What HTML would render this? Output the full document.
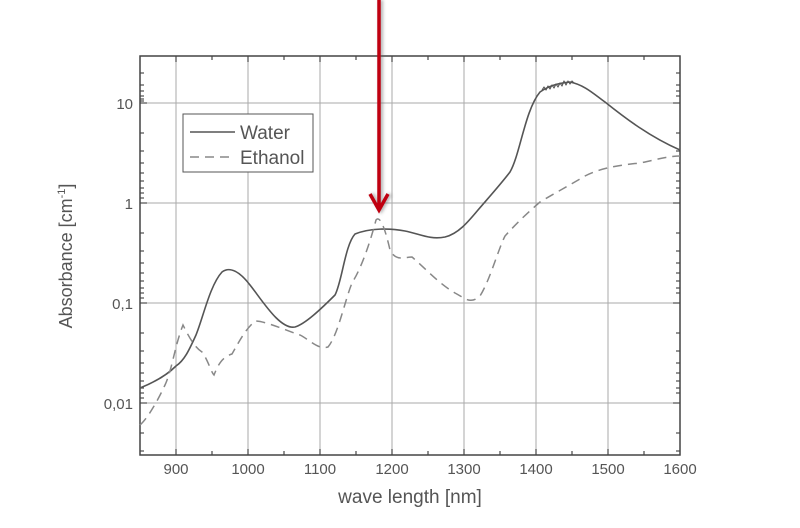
<!DOCTYPE html>
<html><head><meta charset="utf-8"><style>
body{margin:0;background:#fff;width:800px;height:523px;overflow:hidden}
text{font-family:"Liberation Sans",sans-serif;fill:#555}
</style></head><body>
<svg width="800" height="523" viewBox="0 0 800 523">
<defs><filter id="sh" x="-2" y="-0.1" width="5" height="1.3"><feGaussianBlur stdDeviation="1.5"/></filter></defs>
<g stroke="#aaa" stroke-width="1">
<line x1="176" y1="56" x2="176" y2="455"/><line x1="248" y1="56" x2="248" y2="455"/><line x1="320" y1="56" x2="320" y2="455"/><line x1="392" y1="56" x2="392" y2="455"/><line x1="464" y1="56" x2="464" y2="455"/><line x1="536" y1="56" x2="536" y2="455"/><line x1="608" y1="56" x2="608" y2="455"/>
<line x1="140" y1="103" x2="680" y2="103"/><line x1="140" y1="203" x2="680" y2="203"/><line x1="140" y1="303" x2="680" y2="303"/><line x1="140" y1="403" x2="680" y2="403"/>
</g>
<g stroke="#555" stroke-width="1.3">
<path d="M176 455v-6M248 455v-6M320 455v-6M392 455v-6M464 455v-6M536 455v-6M608 455v-6M212 455v-4M284 455v-4M356 455v-4M428 455v-4M500 455v-4M572 455v-4M644 455v-4
M176 56v6M248 56v6M320 56v6M392 56v6M464 56v6M536 56v6M608 56v6M212 56v4M284 56v4M356 56v4M428 56v4M500 56v4M572 56v4M644 56v4"/>
<path d="M140 103h7M140 203h7M140 303h7M140 403h7M673 103h7M673 203h7M673 303h7M673 403h7
M140 73h4M140 85h4M140 91h4M140 96h4M140 99h4M140 101h4M140 133h4M140 151h4M140 163h4M140 173h4M140 181h4M140 188h4M140 193h4M140 198h4M140 233h4M140 251h4M140 263h4M140 273h4M140 281h4M140 288h4M140 293h4M140 298h4M140 333h4M140 351h4M140 363h4M140 373h4M140 381h4M140 388h4M140 393h4M140 398h4M140 433h4M140 451h4
M676 73h4M676 85h4M676 91h4M676 96h4M676 133h4M676 151h4M676 163h4M676 173h4M676 181h4M676 188h4M676 193h4M676 233h4M676 251h4M676 263h4M676 273h4M676 281h4M676 288h4M676 293h4M676 333h4M676 351h4M676 363h4M676 373h4M676 381h4M676 388h4M676 393h4M676 433h4M676 451h4"/>
</g>
<rect x="140" y="56" width="540" height="399" fill="none" stroke="#444" stroke-width="1.5"/>
<g fill="none" stroke="#555" stroke-width="1.6" stroke-linejoin="round">
<path d="M140 388 C155 382,168 374,176 366 C185 360,190 348,196 335 C203 318,210 285,222 272 C230 266,240 272,250 285 C262 300,280 330,295 327 C305 324,320 310,335 295 C342 282,345 245,355 234 C370 228,390 228,405 231 C420 234,430 240,445 237 C458 234,468 222,478 210 C490 196,500 185,510 172 C520 155,525 110,540 92 C550 85,560 83,570 82 C585 85,595 95,605 102 C625 118,650 137,680 150"/>
<path d="M542 90 l2 -3 2 3 2 -4 2 3 2 -4 2 3 2 -4 2 3 2 -4 2 3 2 -5 2 4 2 -4 2 3 2 -3 2 2" stroke-width="1.1"/>
</g>
<g fill="none" stroke="#888" stroke-width="1.5" stroke-dasharray="9,6">
<path d="M140 425 C148 418,158 400,165 385 C172 370,175 345,183 325 C188 335,194 347,202 352 C208 360,211 372,214 375 C218 365,222 357,232 354 C240 340,245 330,255 321 C265 321,285 330,300 335 C310 340,318 350,328 347 C338 335,345 300,352 283 C360 270,368 250,376 220 C380 215,385 228,390 250 C396 262,405 257,412 257 C425 268,438 283,455 293 C465 298,470 305,480 296 C490 280,498 250,505 236 C515 225,525 215,540 202 C555 193,570 185,585 176 C600 168,620 165,640 163 C655 160,668 156,680 156"/>
</g>
<rect x="183" y="114" width="130" height="58" fill="#fff" stroke="#555" stroke-width="1"/>
<line x1="190" y1="132" x2="235" y2="132" stroke="#555" stroke-width="1.6"/>
<line x1="190" y1="157" x2="235" y2="157" stroke="#888" stroke-width="1.5" stroke-dasharray="9,6"/>
<text x="240" y="139" font-size="19">Water</text>
<text x="240" y="164" font-size="19">Ethanol</text>
<g font-size="15" text-anchor="end"><text x="133" y="109">10</text><text x="133" y="209">1</text><text x="133" y="309">0,1</text><text x="133" y="409">0,01</text></g>
<g font-size="15" text-anchor="middle"><text x="176" y="474">900</text><text x="248" y="474">1000</text><text x="320" y="474">1100</text><text x="392" y="474">1200</text><text x="464" y="474">1300</text><text x="536" y="474">1400</text><text x="608" y="474">1500</text><text x="680" y="474">1600</text></g>
<text x="410" y="503" font-size="19" text-anchor="middle">wave length [nm]</text>
<text transform="translate(72 256) rotate(-90)" font-size="18" text-anchor="middle">Absorbance [cm<tspan font-size="11" dy="-7">-1</tspan><tspan dy="7">]</tspan></text>
<g filter="url(#sh)" opacity="0.5"><path d="M381 0v208M372 194l9 16 9-16" stroke="#666" stroke-width="4" fill="none"/></g>
<path d="M379 0v208M370 194l9 16 9-16" stroke="#c00010" stroke-width="3.5" fill="none"/>
</svg>
</body></html>
